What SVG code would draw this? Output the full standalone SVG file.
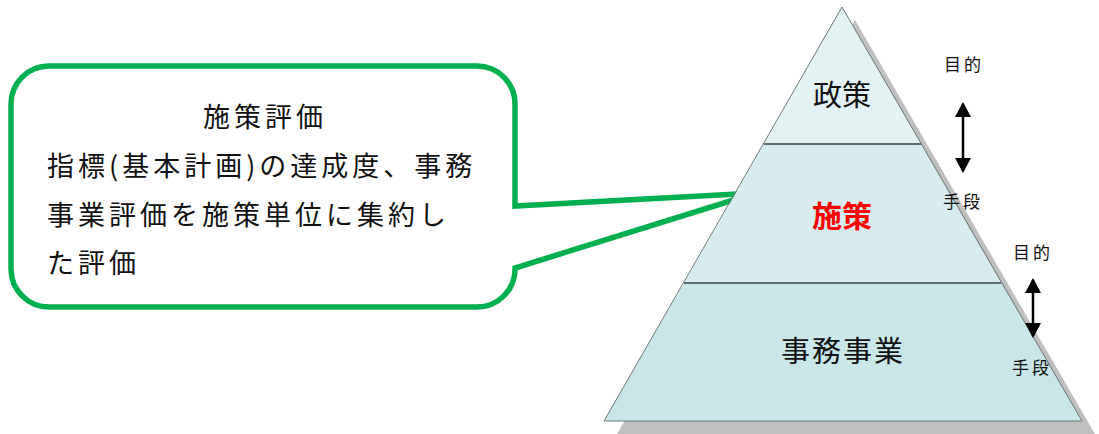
<svg xmlns="http://www.w3.org/2000/svg" width="1099" height="434" viewBox="0 0 1099 434">
<style>
.jp{font-family:"Noto Sans CJK JP","Noto Sans CJK SC",sans-serif;fill:#111}
.body{font-size:27px;letter-spacing:4px}
.layer{font-size:29px;text-anchor:middle}
.small{font-size:17px;letter-spacing:3px}
.div{stroke:#5d6d6f;stroke-width:2}
</style>
<defs>
<marker id="ah" viewBox="0 0 15 16" refX="13" refY="8" markerWidth="15" markerHeight="16" markerUnits="userSpaceOnUse" orient="auto-start-reverse">
<path d="M0,0 L15,8 L0,16 z" fill="#000"/>
</marker>
</defs>
<rect width="1099" height="434" fill="#fff"/>
<g id="callout">
<path d="M49,66 H477 A38,38 0 0 1 515,104 V206 L756,193 L515,268 V269 A38,38 0 0 1 477,307 H49 A38,38 0 0 1 11,269 V104 A38,38 0 0 1 49,66 Z" fill="#fff" stroke="#00b050" stroke-width="5.5" stroke-linejoin="miter"/>
<text class="jp body" x="203" y="127">施策評価</text>
<text class="jp body" x="47" y="176">指標(基本計画)の達成度、事務</text>
<text class="jp body" x="47" y="225">事業評価を施策単位に集約し</text>
<text class="jp body" x="47" y="273">た評価</text>
</g>
<g id="pyramid">
<polygon points="855,20 1095,434 617,434" fill="#bfbfbf"/>
<polygon points="842,7 764,144 921,144" fill="#e3f3f4"/>
<polygon points="764,144 921,144 1001,283 684,283" fill="#d7ecef"/>
<polygon points="684,283 1001,283 1082,421 604,421" fill="#c9e6e9"/>
<polygon points="842,7 1082,421 604,421" fill="none" stroke="#6a7878" stroke-width="1"/>
<line class="div" x1="764" y1="144" x2="921" y2="144"/>
<line class="div" x1="684" y1="283" x2="1001" y2="283"/>
</g>
<g id="layer-seisaku"><text class="jp layer" x="842" y="106">政策</text></g>
<g id="layer-shisaku"><text class="jp layer" x="842" y="227" style="fill:#ff0000;font-weight:bold;font-size:30px">施策</text></g>
<g id="layer-jimujigyo"><text class="jp layer" x="843" y="362" style="letter-spacing:2px">事務事業</text></g>
<g id="labels">
<text class="jp small" x="944" y="71">目的</text>
<text class="jp small" x="943" y="208">手段</text>
<text class="jp small" x="1013" y="259">目的</text>
<text class="jp small" x="1012" y="374">手段</text>
</g>
<g id="connectors" stroke="#000" stroke-width="2.5">
<line x1="963" y1="104" x2="963" y2="171" marker-start="url(#ah)" marker-end="url(#ah)"/>
<line x1="1033" y1="280" x2="1033" y2="336" marker-start="url(#ah)" marker-end="url(#ah)"/>
</g>
</svg>
